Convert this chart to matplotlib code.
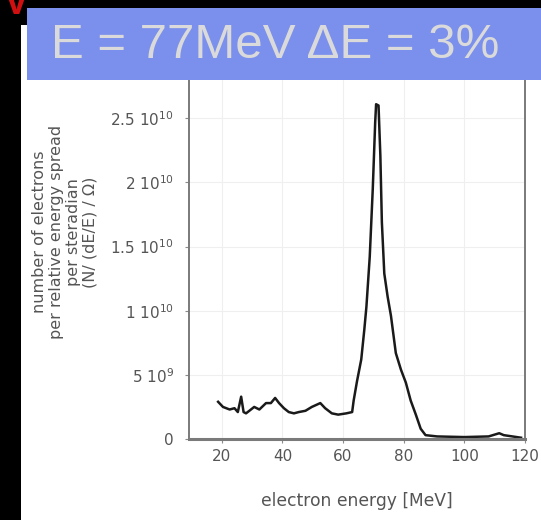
import numpy as np
import matplotlib
matplotlib.use("Agg")
import matplotlib.pyplot as plt
from matplotlib.patches import Rectangle

# electron spectrum (signal in units of 1e10)
energy = [18.8, 20.4, 22.6, 24.2, 25.3, 26.4, 27.2, 28.0, 29.1, 30.7, 32.4,
          34.6, 36.2, 37.6, 38.9, 40.5, 42.1, 43.8, 45.4, 47.6, 49.7, 52.5,
          54.1, 56.3, 58.4, 61.1, 63.0, 63.5, 64.6, 66.0, 67.0, 67.7, 68.8,
          69.8, 70.6, 70.9, 71.7, 72.3, 72.8, 73.6, 74.7, 75.8, 77.4, 79.1,
          80.7, 82.3, 84.0, 85.6, 87.2, 91.0, 100.0, 108.0, 111.5, 113.0, 118.7]
signal = [0.29, 0.25, 0.23, 0.24, 0.21, 0.33, 0.21, 0.20, 0.22, 0.25, 0.23,
          0.28, 0.28, 0.32, 0.28, 0.24, 0.21, 0.20, 0.21, 0.22, 0.25, 0.28,
          0.24, 0.20, 0.19, 0.20, 0.21, 0.30, 0.45, 0.62, 0.85, 1.03, 1.42,
          1.95, 2.47, 2.61, 2.60, 2.21, 1.69, 1.29, 1.11, 0.96, 0.67, 0.54,
          0.44, 0.30, 0.19, 0.08, 0.03, 0.02, 0.015, 0.02, 0.045, 0.03, 0.01]

xticks = [20, 40, 60, 80, 100, 120]
yticks = [0, 0.5e10, 1e10, 1.5e10, 2e10, 2.5e10]
ytick_labels = ["0", r"5 10$^{9}$", r"1 10$^{10}$", r"1.5 10$^{10}$",
                r"2 10$^{10}$", r"2.5 10$^{10}$"]

W, H = 541, 520
fig = plt.figure(figsize=(W / 100, H / 100), dpi=100)
fig.patch.set_facecolor("black")

# white slide panel behind the plot
fig.patches.append(Rectangle((21 / W, 0), 1 - 21 / W, 1 - 25 / H,
                             transform=fig.transFigure, facecolor="white",
                             edgecolor="none", zorder=-5))

ax = fig.add_axes([189 / W, 1 - 439 / H, (525 - 189) / W, (439 - 76) / H])
ax.set_zorder(1)
ax.set_facecolor("white")
ax.plot(energy, np.array(signal) * 1e10, color="#1a1a1a", lw=1.8)

ax.set_xlim(9.2, 118.9)
ax.set_ylim(0, 2.83e10)
ax.set_xticks(xticks)
ax.set_yticks(yticks)
ax.set_yticklabels(ytick_labels)
ax.grid(True, color="#efefef", lw=0.8)
ax.set_axisbelow(True)

for s in ax.spines.values():
    s.set_color("#7a7a7a")
    s.set_linewidth(1.4)
ax.spines["bottom"].set_linewidth(2.2)
ax.tick_params(axis="both", colors="#8a8a8a", length=3, labelcolor="#555555",
               labelsize=11)
ax.tick_params(axis="y", pad=8)
ax.tick_params(axis="x", pad=4)
ax.set_xlabel("electron energy [MeV]", color="#555555", fontsize=12.3,
              labelpad=20)

fig.text(65 / W, 1 - 232 / H,
         "number of electrons\nper relative energy spread\nper steradian\n(N/ (dE/E) / \u03a9)",
         rotation=90, ha="center", va="center", multialignment="center",
         fontsize=11.5, color="#555555", linespacing=1.15)

# blue title banner on top
fig.patches.append(Rectangle((27 / W, 1 - 80 / H), 1 - 27 / W, 72 / H,
                             transform=fig.transFigure, facecolor="#7b8fec",
                             edgecolor="none", zorder=5))
fig.text(275 / W, 1 - 46 / H, "E = 77MeV \u0394E = 3%", ha="center",
         va="center", fontsize=35.5, color="#dadada",
         family=["Liberation Sans", "DejaVu Sans"], zorder=6)

fig.text(16 / W, 1 - 4 / H, "V", ha="center", va="center", fontsize=27,
         color="#d01010", weight="bold", family=["Liberation Sans", "DejaVu Sans"])

fig.savefig("out.png", dpi=100, facecolor=fig.get_facecolor())
